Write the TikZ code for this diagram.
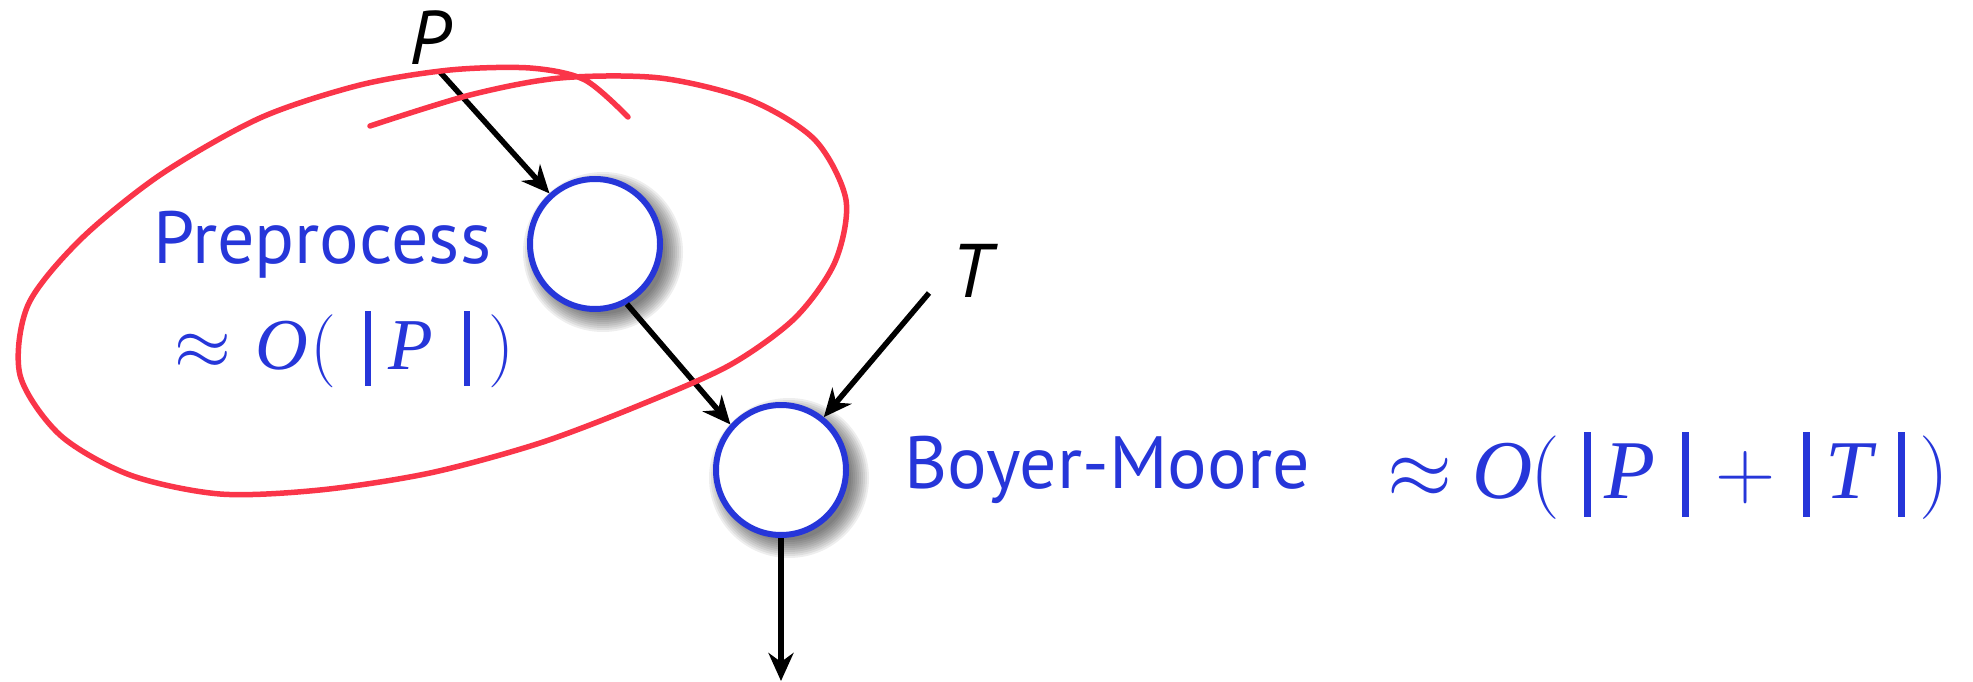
\RequirePackage{fix-cm}
\documentclass[tikz,border=0pt]{standalone}
\usepackage[no-math]{fontspec}
\usepackage{graphicx}
\setmainfont{PT Sans}
\newfontfamily\tms{Liberation Serif}
\usetikzlibrary{arrows.meta}
\definecolor{myblue}{RGB}{38,54,217}
\definecolor{myred}{RGB}{250,53,73}
\newcommand{\mi}[1]{{\tms\itshape #1}}
\newcommand{\vbA}{\rule[-17pt]{6pt}{74pt}}
\newcommand{\vbB}{\rule[-19pt]{7pt}{84pt}}
\begin{document}
\begin{tikzpicture}[x=1pt,y=-1pt,
  arr/.style={line width=5.5pt,-{Stealth[length=28pt,width=25pt,inset=9pt]}},
  bub/.style={circle,draw=myblue,line width=6pt,fill=white,minimum size=130pt,inner sep=0pt},
  shad/.style={fill=black,opacity=0.065},
  lbl/.style={inner sep=0pt,text=myblue,anchor=base west},
  var/.style={inner sep=0pt,font=\fontsize{76}{80}\selectfont\itshape},
  redline/.style={draw=myred,line width=5.5pt,line cap=round,line join=round},
]
\useasboundingbox (0,0) rectangle (1973,682);

\coordinate (c1c) at (595,244);
\coordinate (c2c) at (781,470);

% soft shadows
\foreach \r in {80,78,76,74,72,70,68,66,64,62} {
  \fill[shad] ([shift={(8,8)}]c1c) circle[radius=\r];
  \fill[shad] ([shift={(8,8)}]c2c) circle[radius=\r];
}

\node[bub] (c1) at (c1c) {};
\node[bub] (c2) at (c2c) {};

\node[var] (plab) at (430,38) {P};
\node[var] (tlab) at (972,271) {T};

\coordinate (pstart) at (440,72);
\coordinate (tstart) at (929,293);
\coordinate (outend) at (781,681);

\draw[arr] (pstart) -- (c1.132);
\draw[arr] (c1.-62) -- (c2.138);
\draw[arr] (tstart) -- (c2.51);
\draw[arr] (c2.south) -- (outend);

\node[lbl,font=\fontsize{74}{80}\selectfont] (pre) at (153,263) {Preprocess};
\node[lbl,font=\fontsize{72}{80}\selectfont] (f1) at (174,369)
  {\resizebox{340pt}{!}{$\approx$\hspace{24pt}\mi{O}\hspace{2pt}$($\hspace{28pt}\vbA\hspace{18pt}\mi{P}\hspace{30pt}\vbA\hspace{18pt}$)$}};
\node[lbl,font=\fontsize{74}{80}\selectfont] (bm) at (904,488) {Boyer-Moore};
\node[lbl,font=\fontsize{82}{90}\selectfont] (f2) at (1387,498)
  {\resizebox{562pt}{!}{$\approx$\hspace{20pt}\mi{O}\hspace{-2pt}$($\hspace{23pt}\vbB\hspace{13pt}\mi{P}\hspace{26pt}\vbB\hspace{26pt}$+$\hspace{27pt}\vbB\hspace{15pt}\mi{T}\hspace{26pt}\vbB\hspace{14pt}$)$}};

\draw[redline] plot[smooth,tension=0.5] coordinates {
 (370,126) (470,95) (560,78) (660,78) (750,100) (815,140) (846,200) (835,262)
 (795,318) (730,365) (640,405) (540,443) (430,473) (320,490) (220,494) (130,475)
 (60,435) (20,375) (28,305) (80,240) (160,175) (260,118) (360,85) (450,70)
 (530,68) (585,80) (628,117)};
\end{tikzpicture}
\end{document}
